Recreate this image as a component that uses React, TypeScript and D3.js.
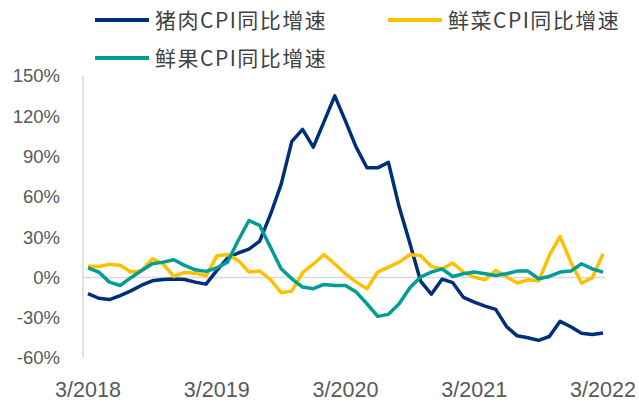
import React, { useRef, useEffect } from 'react';
import * as d3 from 'd3';

// monthly yoy %, 3/2018 .. 3/2022
const porkCPI = [
  -12, -15.5, -16.5, -13.5, -10, -5.8, -2.5, -1.5, -1.2, -1.5,
  -3.5, -5, 5.1, 14.4, 18.2, 21.1, 27.0, 46.7, 69.3, 101.3, 110.2, 97.0,
  116.0, 135.2, 116.4, 96.9, 81.7, 81.6, 85.7, 52.6, 25.5, -2.8, -12.5, -1.3,
  -3.9, -14.9, -18.4, -21.4, -23.8, -36.5, -43.5, -44.9, -46.9, -44.0, -32.7, -36.7,
  -41.6, -42.5, -41.4,
];
const vegCPI = [
  8.4, 8.2, 9.7, 9, 4, 5, 14, 10, 0.8, 3.7,
  3.2, 1.2, 15.9, 17, 12.7, 4, 4.7, -1.5, -11.4, -10.2, 3.5, 10,
  17, 10, 2.7, -3.5, -8.4, 4, 7.7, 11.4, 16.9, 16.4, 8.2, 6.4,
  10.7, 4, 0.3, -1.7, 5.2, 0.7, -4.2, -1.7, -2.7, 16.4, 30.5, 11.4,
  -4.2, -0.2, 17.6,
];
const fruitCPI = [
  7.2, 4, -3.5, -6, -0.2, 5.2, 10.2, 11.4, 13.2, 9,
  5.7, 4.5, 7, 11.4, 27.5, 42.4, 38.7, 22.6, 6.4, -1, -7.2, -8.4,
  -5.2, -6, -6, -10.9, -19.6, -29, -27.5, -19.6, -7.7, 0.3, 4, 6.4,
  0.7, 2.7, 4, 2.7, 1.5, 2.7, 4.7, 4.7, -1, 0.7, 4, 4.7, 10.2,
  6.4, 4,
];

const xTickIndex = [0, 12, 24, 36, 48];
const xTickLabels = ['3/2018', '3/2019', '3/2020', '3/2021', '3/2022'];
const yTicks = [-60, -30, 0, 30, 60, 90, 120, 150];

const seriesNames = ['猪肉CPI同比增速', '鲜菜CPI同比增速', '鲜果CPI同比增速'];
const seriesColors = ['#002F7A', '#FFC000', '#009C96'];

function App() {
  const chartRef = useRef(null);

  useEffect(() => {
    const width = 639;
    const height = 403;

    const svg = d3.select(chartRef.current);
    svg.selectAll('*').remove();
    svg.attr('width', width).attr('height', height);

    const xScale = d3.scaleLinear().domain([0, 48]).range([88, 603]);
    const yScale = d3.scaleLinear().domain([-60, 150]).range([358, 76]);

    // vertical axis line
    svg.append('line')
      .attr('x1', 83).attr('x2', 83)
      .attr('y1', yScale(150)).attr('y2', yScale(-60))
      .attr('stroke', '#D9D9D9')
      .attr('stroke-width', 1.5);

    // zero line
    svg.append('line')
      .attr('x1', 83).attr('x2', xScale(48) + 2)
      .attr('y1', yScale(0)).attr('y2', yScale(0))
      .attr('stroke', '#D9D9D9')
      .attr('stroke-width', 1.5);

    // y labels
    svg.append('g')
      .selectAll('text')
      .data(yTicks)
      .enter()
      .append('text')
      .attr('x', 60)
      .attr('y', d => yScale(d))
      .attr('dy', '0.35em')
      .attr('text-anchor', 'end')
      .attr('font-family', 'Liberation Sans, Arial, sans-serif')
      .attr('font-size', 18.5)
      .attr('fill', '#595959')
      .text(d => `${d}%`);

    // x labels
    svg.append('g')
      .selectAll('text')
      .data(xTickIndex)
      .enter()
      .append('text')
      .attr('x', d => xScale(d))
      .attr('y', 397)
      .attr('text-anchor', 'middle')
      .attr('font-family', 'Liberation Sans, Arial, sans-serif')
      .attr('font-size', 21.5)
      .attr('fill', '#595959')
      .text((d, i) => xTickLabels[i]);

    const line = d3.line()
      .x((d, i) => xScale(i))
      .y(d => yScale(d));

    [porkCPI, vegCPI, fruitCPI].forEach((values, k) => {
      svg.append('path')
        .datum(values)
        .attr('d', line)
        .attr('fill', 'none')
        .attr('stroke', seriesColors[k])
        .attr('stroke-width', 3.5)
        .attr('stroke-linejoin', 'round');
    });

    // legend
    const legendPos = [
      { x: 95, y: 20 },
      { x: 388, y: 20 },
      { x: 95, y: 58 },
    ];
    seriesNames.forEach((name, k) => {
      const g = svg.append('g')
        .attr('transform', `translate(${legendPos[k].x},${legendPos[k].y})`);
      g.append('line')
        .attr('x1', 0).attr('x2', 54)
        .attr('y1', 0).attr('y2', 0)
        .attr('stroke', seriesColors[k])
        .attr('stroke-width', 4);
      g.append('text')
        .attr('x', 60)
        .attr('y', 0)
        .attr('dy', '0.36em')
        .attr('font-family', 'Noto Sans CJK SC, sans-serif')
        .attr('font-size', 21)
        .attr('letter-spacing', 1.5)
        .attr('fill', '#404040')
        .text(name);
    });
  }, []);

  return (
    <div style={{ position: 'absolute', left: 0, top: 0 }}>
      <svg ref={chartRef} style={{ display: 'block' }}></svg>
    </div>
  );
}

export default App;
